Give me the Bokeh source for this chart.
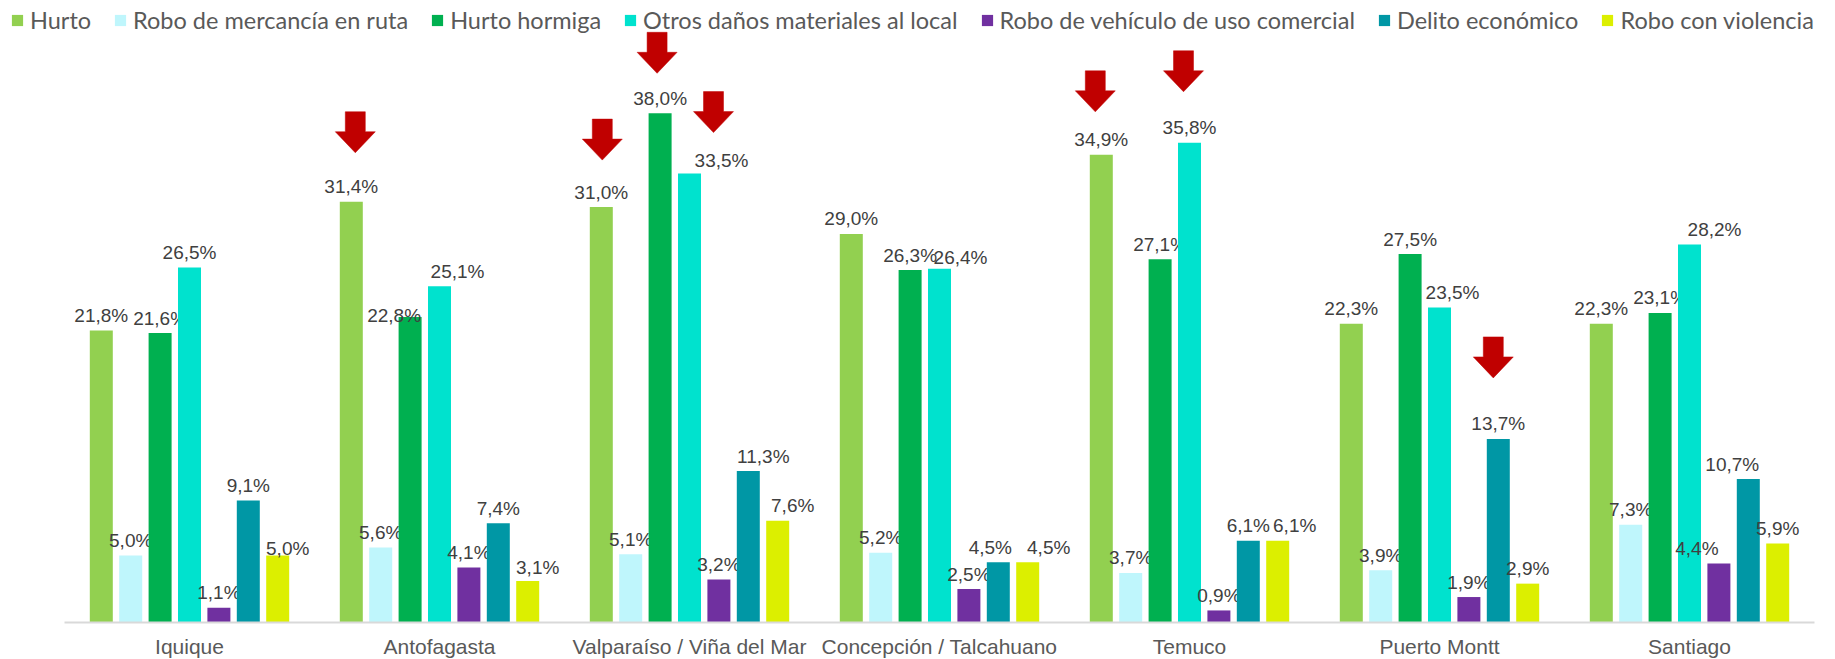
from bokeh.plotting import figure
from bokeh.models import Range1d, FixedTicker, Legend, LegendItem, ColumnDataSource
from bokeh.core.properties import value
from bokeh.embed import file_html
from bokeh.resources import INLINE

cities = ["Iquique", "Antofagasta", "Valparaíso / Viña del Mar",
          "Concepción / Talcahuano", "Temuco", "Puerto Montt", "Santiago"]
series_names = ["Hurto", "Robo de mercancía en ruta", "Hurto hormiga",
                "Otros daños materiales al local", "Robo de vehículo de uso comercial",
                "Delito económico", "Robo con violencia"]
hurto = [21.8, 31.4, 31.0, 29.0, 34.9, 22.3, 22.3]
robo_mercancia = [5.0, 5.6, 5.1, 5.2, 3.7, 3.9, 7.3]
hurto_hormiga = [21.6, 22.8, 38.0, 26.3, 27.1, 27.5, 23.1]
otros_danos = [26.5, 25.1, 33.5, 26.4, 35.8, 23.5, 28.2]
robo_vehiculo = [1.1, 4.1, 3.2, 2.5, 0.9, 1.9, 4.4]
delito_economico = [9.1, 7.4, 11.3, 4.5, 6.1, 13.7, 10.7]
robo_violencia = [5.0, 3.1, 7.6, 4.5, 6.1, 2.9, 5.9]
series_values = [hurto, robo_mercancia, hurto_hormiga, otros_danos,
                 robo_vehiculo, delito_economico, robo_violencia]
colors = ["#92D050", "#BFF6FC", "#00B050", "#00E2CE", "#7030A0", "#0097A5", "#DCEF00"]

# highlighted bars (city index, series index)
highlighted = [(1, 0), (2, 0), (2, 2), (2, 3), (4, 0), (4, 3), (5, 5)]

# ---- styling / placement (pixels) ----
W, H = 1835, 659
LEFT, RIGHT = 64, 21        # px outside the category band
BASE = 622                  # px from top to the zero line
PX_X = (W - LEFT - RIGHT) / 7.0
PX_Y = 13.4                 # px per percent
PITCH = 0.1176
BAR_W = 0.092
label_nudge = {  # (city, series): (dx px, dy px down)
    (0, 6): (10, 8),
    (1, 2): (-16, 14), (1, 3): (18, 0), (1, 6): (10, 2),
    (2, 3): (32, 2), (2, 5): (15, 0), (2, 6): (15, 0),
    (3, 3): (21, 4), (3, 5): (-8, 0), (3, 6): (21, 0),
    (4, 6): (17, 0),
    (5, 3): (13, 0),
    (6, 3): (25, 0), (6, 4): (-22, 0), (6, 5): (-16, 0),
}
arrow_style = {  # (city, series): (dx px, gap from bar top to tip px)
    (1, 0): (4, 49), (2, 0): (1, 47), (2, 2): (-3, 40), (2, 3): (24, 41),
    (4, 0): (-6, 43), (4, 3): (-6, 51), (5, 5): (-5, 61),
}

p = figure(width=W, height=H,
           x_range=Range1d(-LEFT / PX_X, 7 + RIGHT / PX_X),
           y_range=Range1d(-(H - BASE) / PX_Y, BASE / PX_Y),
           output_backend="svg", toolbar_location=None, y_axis_location=None,
           min_border_left=0, min_border_right=0, min_border_top=0,
           min_border_bottom=0)
p.outline_line_color = None
p.xgrid.visible = False
p.ygrid.visible = False
p.background_fill_color = "white"

legend_items = []
for j, (name, vals, col) in enumerate(zip(series_names, series_values, colors)):
    xs = [i + 0.5 + (j - 3) * PITCH for i in range(len(cities))]
    src = ColumnDataSource(dict(x=xs, top=vals))
    r = p.vbar(x="x", top="top", width=BAR_W, bottom=0, source=src,
               fill_color=col, line_color=None)
    legend_items.append(LegendItem(label=name, renderers=[r]))
    lx, ly, lt, yo = [], [], [], []
    for i, v in enumerate(vals):
        dx, dy = label_nudge.get((i, j), (0, 0))
        lx.append(xs[i] + dx / PX_X)
        ly.append(v)
        lt.append(f"{v:.1f}%".replace(".", ","))
        yo.append(-15 + dy)
    lsrc = ColumnDataSource(dict(x=lx, y=ly, t=lt, yo=yo))
    p.text(x="x", y="y", text="t", y_offset="yo", source=lsrc,
           text_font=value("Liberation Sans"), text_font_size="19px",
           text_color="#404040", text_align="center", text_baseline="alphabetic")

# red block arrows over highlighted bars
axs, ays = [], []
for (i, j) in highlighted:
    dx, gap = arrow_style[(i, j)]
    cx = i + 0.5 + (j - 3) * PITCH + dx / PX_X
    tip = series_values[j][i] + gap / PX_Y
    sw, hw = 10 / PX_X, 20 / PX_X
    hh, sh = 21 / PX_Y, 20 / PX_Y
    axs.append([cx - sw, cx + sw, cx + sw, cx + hw, cx, cx - hw, cx - sw])
    ays.append([tip + hh + sh, tip + hh + sh, tip + hh, tip + hh, tip, tip + hh, tip + hh])
p.patches(xs=axs, ys=ays, fill_color="#C00000", line_color="#C00000", line_width=0.5)

ax = p.xaxis[0]
ax.fixed_location = 0
ax.bounds = (0, 7)
ax.ticker = FixedTicker(ticks=[i + 0.5 for i in range(len(cities))])
ax.major_label_overrides = {i + 0.5: c for i, c in enumerate(cities)}
ax.axis_line_color = "#D9D9D9"
ax.axis_line_width = 2
ax.major_tick_line_color = None
ax.minor_tick_line_color = None
ax.major_tick_out = 0
ax.major_tick_in = 0
ax.minor_tick_out = 0
ax.minor_tick_in = 0
ax.major_label_standoff = 12
ax.major_label_text_font = "Liberation Sans"
ax.major_label_text_font_size = "21px"
ax.major_label_text_color = "#595959"

legend = Legend(items=legend_items, orientation="horizontal",
                location=(10, H - 34),
                label_text_font="Lato", label_text_font_size="23.5px",
                label_text_color="#595959", glyph_width=14, glyph_height=14,
                label_standoff=6, spacing=22, padding=0, margin=0,
                border_line_color=None, background_fill_alpha=0)
p.add_layout(legend, "center")

open("out.html", "w").write(file_html(p, INLINE))
